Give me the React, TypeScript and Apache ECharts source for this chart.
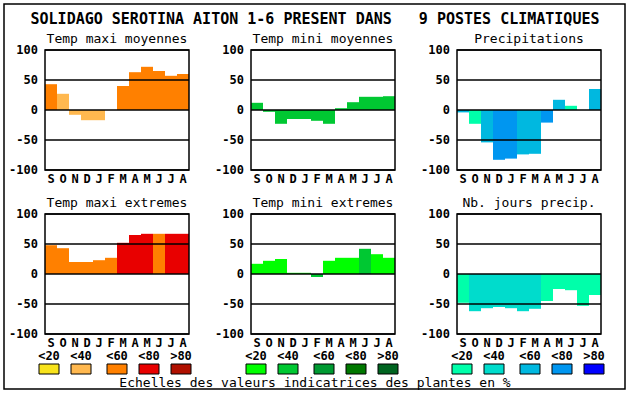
import React, { useEffect, useRef } from "react";
import * as echarts from "echarts";

const months = ["S", "O", "N", "D", "J", "F", "M", "A", "M", "J", "J", "A"];
const yTicks = [-100, -50, 0, 50, 100];

const warm = ["#f8e31c", "#ffb84f", "#ff8000", "#e80000", "#b01000"];
const greens = ["#00ff00", "#00c832", "#009a32", "#007800", "#006420"];
const blues = ["#00ffaa", "#00dccc", "#00b8e0", "#0096f0", "#0000ff"];
const classLabels = ["<20", "<40", "<60", "<80", ">80"];

const tmaxMoy = [43, 27, -8, -17, -17, 0, 40, 63, 72, 65, 57, 60];
const tmaxMoyCls = [2, 1, 1, 1, 1, 1, 2, 2, 2, 2, 2, 2];
const tminMoy = [12, -3, -23, -15, -15, -18, -23, 3, 13, 22, 22, 23];
const tminMoyCls = [1, 1, 1, 1, 1, 1, 1, 1, 1, 1, 1, 1];
const precip = [-4, -23, -54, -83, -81, -74, -73, -21, 17, 7, 0, 35];
const precipCls = [2, 0, 2, 3, 3, 2, 2, 3, 2, 0, 0, 2];
const tmaxExt = [48, 43, 20, 20, 23, 27, 52, 65, 67, 67, 67, 67];
const tmaxExtCls = [2, 2, 2, 2, 2, 2, 3, 3, 3, 2, 3, 3];
const tminExt = [17, 22, 25, 2, 2, -5, 22, 27, 27, 42, 33, 27];
const tminExtCls = [0, 0, 0, 0, 0, 1, 0, 0, 0, 1, 0, 0];
const nbJours = [-48, -62, -57, -55, -57, -62, -58, -45, -25, -27, -53, -35];
const nbJoursCls = [0, 1, 1, 1, 1, 1, 1, 0, 0, 0, 0, 0];

const mainTitle = "SOLIDAGO SEROTINA AITON 1-6 PRESENT DANS   9 POSTES CLIMATIQUES";
const footer = "Echelles des valeurs indicatrices des plantes en %";

const panels = [
  { title: "Temp maxi moyennes", values: tmaxMoy, cls: tmaxMoyCls, pal: warm },
  { title: "Temp mini moyennes", values: tminMoy, cls: tminMoyCls, pal: greens },
  { title: "Precipitations", values: precip, cls: precipCls, pal: blues },
  { title: "Temp maxi extremes", values: tmaxExt, cls: tmaxExtCls, pal: warm },
  { title: "Temp mini extremes", values: tminExt, cls: tminExtCls, pal: greens },
  { title: "Nb. jours precip.", values: nbJours, cls: nbJoursCls, pal: blues },
];

const FONT = "DejaVu Sans Mono";
const lefts = [45, 251, 457];
const tops = [50, 214];
const GW = 144;
const GH = 120;
const legendX = [
  [39, 71, 107, 139, 171],
  [246, 278, 314, 346, 378],
  [452, 484, 520, 552, 584],
];
const legendPals = [warm, greens, blues];

function buildOption() {
  const grid: any[] = [];
  const xAxis: any[] = [];
  const yAxis: any[] = [];
  const series: any[] = [];
  const graphic: any[] = [];

  graphic.push({
    type: "rect",
    shape: { x: 4, y: 4, width: 621, height: 385 },
    style: { fill: "none", stroke: "#000", lineWidth: 1.5 },
    z: 100,
  });
  graphic.push({
    type: "text",
    x: 315,
    y: 19,
    style: {
      text: mainTitle,
      fill: "#000",
      font: `bold 15px "${FONT}"`,
      align: "center",
      verticalAlign: "middle",
    },
    z: 100,
  });

  panels.forEach((p, i) => {
    const col = i % 3;
    const row = Math.floor(i / 3);
    const left = lefts[col];
    const top = tops[row];
    grid.push({ left, top, width: GW, height: GH, containLabel: false });
    xAxis.push({
      type: "category",
      gridIndex: i,
      data: months,
      boundaryGap: true,
      axisTick: { show: false },
      axisLine: { show: false },
      axisLabel: {
        color: "#000",
        fontFamily: FONT,
        fontWeight: "bold",
        fontSize: 12,
        lineHeight: 11,
        margin: 3,
        interval: 0,
      },
      splitLine: { show: false },
    });
    yAxis.push({
      type: "value",
      gridIndex: i,
      min: yTicks[0],
      max: yTicks[yTicks.length - 1],
      interval: 50,
      z: 5,
      axisLine: { show: false },
      axisTick: { show: false },
      axisLabel: {
        color: "#000",
        fontFamily: FONT,
        fontWeight: "bold",
        fontSize: 12,
        margin: 7,
      },
      splitLine: { show: true, lineStyle: { color: "#000", width: 1.5 } },
    });
    series.push({
      type: "bar",
      xAxisIndex: i,
      yAxisIndex: i,
      barCategoryGap: "0%",
      barGap: "0%",
      z: 2,
      data: p.values.map((v, k) => ({
        value: v,
        itemStyle: { color: p.pal[p.cls[k]] },
      })),
    });
    graphic.push({
      type: "rect",
      shape: { x: left, y: top, width: GW, height: GH },
      style: { fill: "none", stroke: "#000", lineWidth: 1.5 },
      z: 100,
    });
    graphic.push({
      type: "text",
      x: left + GW / 2,
      y: top - 12,
      style: {
        text: p.title,
        fill: "#000",
        font: `13px "${FONT}"`,
        align: "center",
        verticalAlign: "middle",
      },
      z: 100,
    });
  });

  legendX.forEach((xs, g) => {
    xs.forEach((x, k) => {
      graphic.push({
        type: "text",
        x: x + 10,
        y: 356,
        style: {
          text: classLabels[k],
          fill: "#000",
          font: `bold 12px "${FONT}"`,
          lineHeight: 11,
          align: "center",
          verticalAlign: "middle",
        },
        z: 100,
      });
      graphic.push({
        type: "rect",
        shape: { x, y: 364, width: 20, height: 10 },
        style: { fill: legendPals[g][k], stroke: "#000", lineWidth: 1 },
        z: 100,
      });
    });
  });

  graphic.push({
    type: "text",
    x: 315,
    y: 382,
    style: {
      text: footer,
      fill: "#000",
      font: `13px "${FONT}"`,
      lineHeight: 12,
      align: "center",
      verticalAlign: "middle",
    },
    z: 100,
  });

  return {
    animation: false,
    backgroundColor: "#fff",
    grid,
    xAxis,
    yAxis,
    series,
    graphic,
  };
}

export default function App() {
  const ref = useRef<HTMLDivElement>(null);
  useEffect(() => {
    if (!ref.current) return;
    const chart = echarts.init(ref.current, null, { renderer: "svg", width: 630, height: 394 });
    chart.setOption(buildOption() as any);
    return () => chart.dispose();
  }, []);
  return (
    <div
      ref={ref}
      style={{ position: "fixed", left: 0, top: 0, width: 630, height: 394, background: "#fff" }}
    />
  );
}
